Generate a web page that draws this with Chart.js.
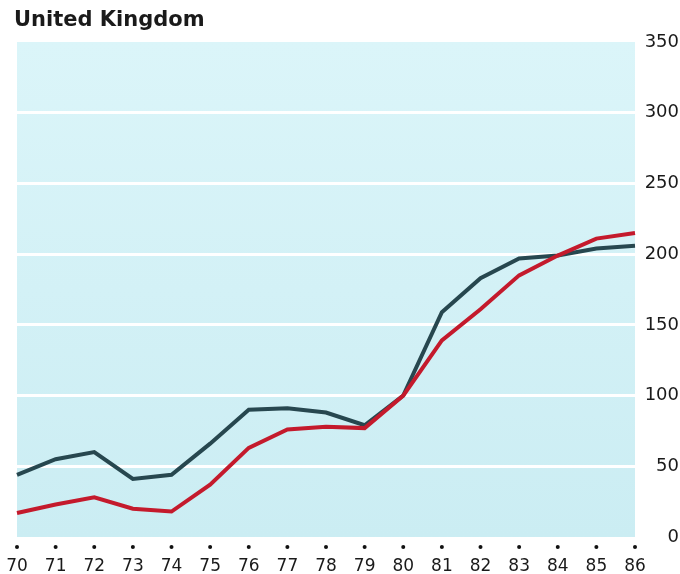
<!DOCTYPE html>
<html>
<head>
<meta charset="utf-8">
<script src="https://cdn.jsdelivr.net/npm/chart.js@4"></script>
<style>
  html, body { margin: 0; padding: 0; background: #fff; }
  #wrap { position: relative; width: 680px; height: 574px; }
  #title { position: absolute; left: 14px; top: 7px; font: bold 21px "DejaVu Sans", sans-serif; color: #1a1a1a; }
</style>
</head>
<body>
<div id="wrap">
  <div id="title">United Kingdom</div>
  <canvas id="ukChart" width="680" height="574"></canvas>
</div>
<script>
const years = ['70', '71', '72', '73', '74', '75', '76', '77', '78', '79', '80', '81', '82', '83', '84', '85', '86'];
const darkSeries = [44, 55, 60, 41, 44, 66, 90, 91, 88, 79, 100, 159, 183, 197, 199, 204, 206];
const redSeries = [17, 23, 28, 20, 18, 37, 63, 76, 78, 77, 100, 139, 161, 185, 199, 211, 215];
const yTicks = [0, 50, 100, 150, 200, 250, 300, 350];

// light blue panel behind the lines
const panelBg = {
    id: 'panelBg',
    beforeDraw(chart) {
        const { ctx, chartArea: a } = chart;
        const g = ctx.createLinearGradient(0, a.top, 0, a.bottom);
        g.addColorStop(0, '#dbf5f9');
        g.addColorStop(1, '#cbedf3');
        ctx.save();
        ctx.fillStyle = g;
        ctx.fillRect(a.left, a.top, a.right - a.left, a.bottom - a.top);
        ctx.restore();
    }
};

// small dots above the year labels
const yearDots = {
    id: 'yearDots',
    afterDraw(chart) {
        const { ctx, scales: { x } } = chart;
        ctx.save();
        ctx.fillStyle = '#111';
        years.forEach((_, i) => {
            ctx.beginPath();
            ctx.arc(x.getPixelForTick(i), 547, 2, 0, Math.PI * 2);
            ctx.fill();
        });
        ctx.restore();
    }
};

const config = {
    type: 'line',
    data: {
        labels: years,
        datasets: [{
            data: redSeries,
            borderColor: '#c41a2c',
            borderWidth: 4,
            pointRadius: 0,
            tension: 0
        }, {
            data: darkSeries,
            borderColor: '#27474f',
            borderWidth: 4,
            pointRadius: 0,
            tension: 0
        }]
    },
    options: {
        responsive: false,
        animation: false,
        layout: { padding: { top: 42, left: 17, right: 1 } },
        plugins: { legend: { display: false }, tooltip: { enabled: false } },
        scales: {
            x: {
                offset: false,
                grid: { display: false, drawTicks: false },
                border: { display: false },
                ticks: {
                    color: '#1a1a1a',
                    font: { family: 'DejaVu Sans', size: 17 },
                    padding: 19,
                    maxRotation: 0,
                    autoSkip: false
                },
                afterFit(s) {
                    s.height = 37;
                    s.paddingLeft = 0;
                    s.paddingRight = 0;
                }
            },
            y: {
                position: 'right',
                min: 0,
                max: 350,
                afterBuildTicks(s) { s.ticks = yTicks.map(v => ({ value: v })); },
                grid: {
                    color: c => (c.tick.value === 0 || c.tick.value === 350) ? 'rgba(0,0,0,0)' : '#ffffff',
                    lineWidth: 3,
                    drawTicks: false
                },
                border: { display: false },
                ticks: {
                    color: '#1a1a1a',
                    font: { family: 'DejaVu Sans', size: 18 },
                    crossAlign: 'far',
                    padding: 6
                },
                afterFit(s) { s.width = 44; }
            }
        }
    },
    plugins: [panelBg, yearDots]
};

const ctx = document.getElementById('ukChart').getContext('2d');
const ukChart = new Chart(ctx, config);
</script>
</body>
</html>
